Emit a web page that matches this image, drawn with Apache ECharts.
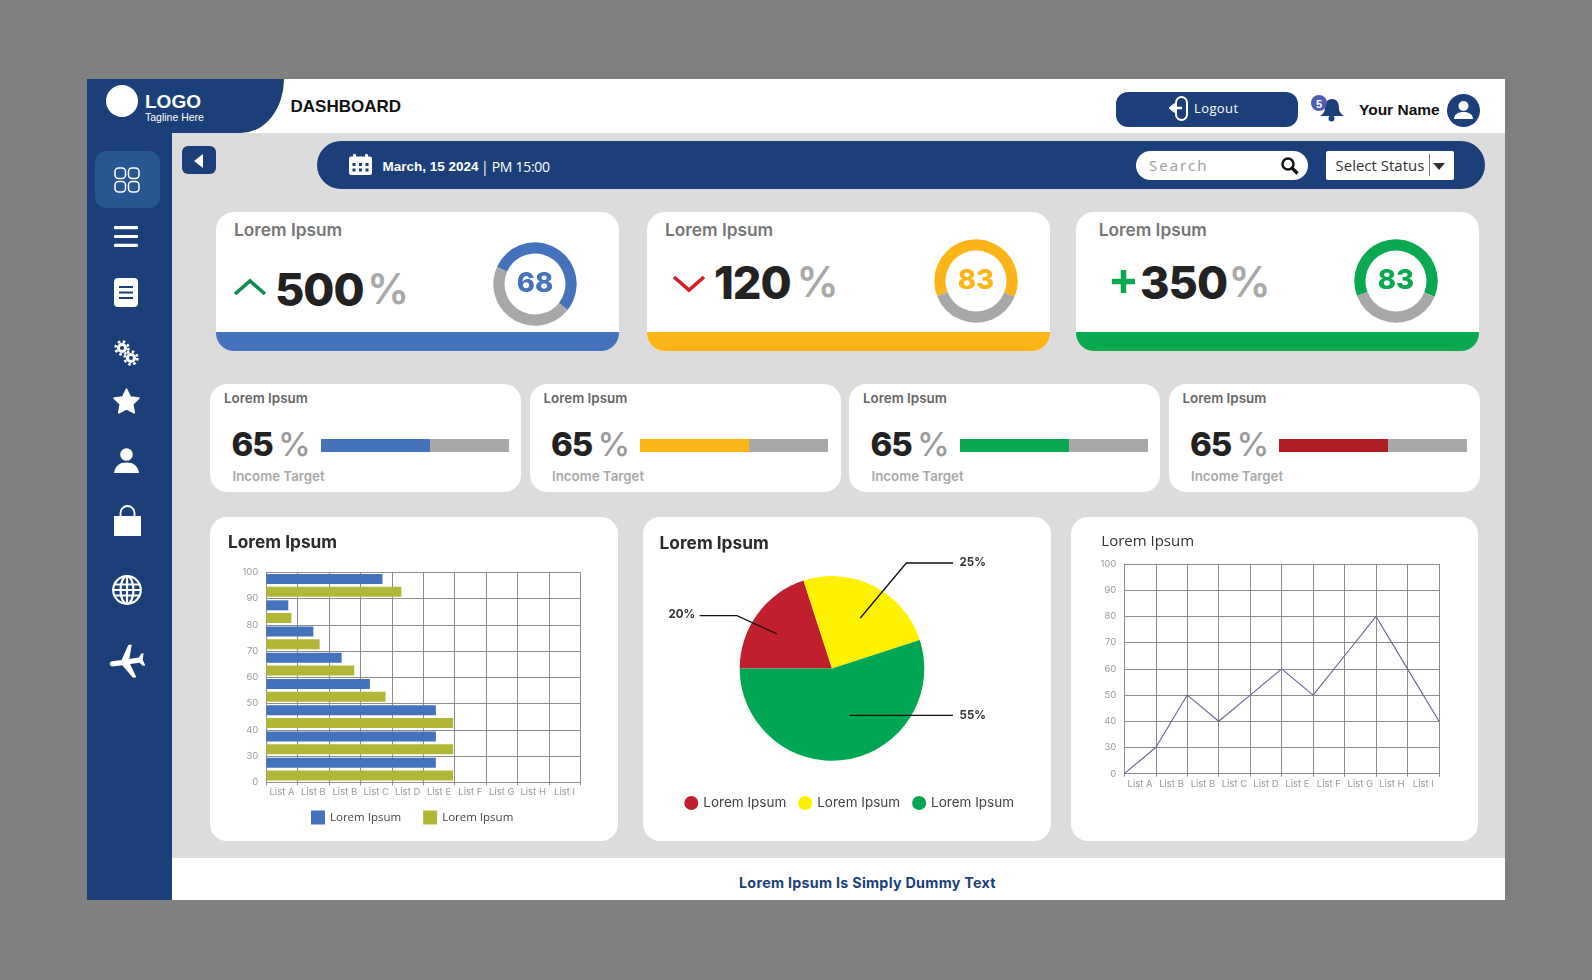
<!DOCTYPE html>
<html>
<head>
<meta charset="utf-8">
<title>Dashboard</title>
<script src="https://cdn.jsdelivr.net/npm/echarts@6/dist/echarts.min.js"></script>
<style>
html,body{margin:0;padding:0;width:1592px;height:980px;overflow:hidden;background:#7f8080;font-family:Inter,sans-serif;}
.box{position:absolute;}
.txt{position:absolute;white-space:nowrap;line-height:1;}
.card{position:absolute;background:#fff;overflow:hidden;}
svg{position:absolute;overflow:visible;}
</style>
</head>
<body>
<!-- shell -->
<div class="box" style="left:87px;top:79px;width:1418px;height:821px;background:#dcdcdc"></div>
<div class="box" style="left:87px;top:79px;width:1418px;height:54px;background:#fff"></div>
<div class="box" style="left:172px;top:858px;width:1333px;height:42px;background:#fff"></div>
<div class="box" style="left:87px;top:79px;width:85px;height:821px;background:#1b3f78"></div>
<div class="box" style="left:87px;top:79px;width:197px;height:54px;background:#1b3f78;border-bottom-right-radius:43px 54px"></div>
<div class="box" style="left:106px;top:85px;width:32px;height:32px;border-radius:50%;background:#fff"></div>
<div class="txt" style="left:145px;top:91px;font:bold 19px 'Liberation Sans';color:#fff">LOGO</div>
<div class="txt" style="left:145px;top:110.500px;font:10.500px 'Liberation Sans';color:#fff">Tagline Here</div>
<div class="txt" style="left:290.500px;top:97px;font:bold 17px 'Liberation Sans';color:#111">DASHBOARD</div>

<!-- sidebar -->
<div class="box" style="left:94.500px;top:151px;width:65px;height:57px;border-radius:11px;background:#275690"></div>
<svg style="left:114px;top:166.500px" width="26" height="26" fill="none" stroke="#fff" stroke-width="1.5">
  <rect x="1" y="1" width="10.5" height="10.5" rx="3.5"/><rect x="14.5" y="1" width="10.5" height="10.5" rx="3.5"/>
  <rect x="1" y="14.5" width="10.5" height="10.5" rx="3.5"/><rect x="14.5" y="14.5" width="10.5" height="10.5" rx="3.5"/>
</svg>
<svg style="left:114px;top:225.500px" width="24" height="21" fill="#fff">
  <rect width="24" height="3.2" rx="1"/><rect y="8.9" width="24" height="3.2" rx="1"/><rect y="17.8" width="24" height="3.2" rx="1"/>
</svg>
<svg style="left:114px;top:278px" width="24" height="29">
  <rect width="24" height="29" rx="4" fill="#fff"/>
  <path d="M5 9h14M5 14.5h14M5 20h14" stroke="#1b3f78" stroke-width="2.2"/>
</svg>
<svg style="left:114px;top:340px" width="25" height="26" fill="none" stroke="#fff">
  <circle cx="8" cy="8" r="3.6" stroke-width="3"/><circle cx="8" cy="8" r="6.4" stroke-width="2.6" stroke-dasharray="2.5 2.53"/>
  <circle cx="17" cy="18" r="3.6" stroke-width="3"/><circle cx="17" cy="18" r="6.4" stroke-width="2.6" stroke-dasharray="2.5 2.53"/>
</svg>
<svg style="left:112.500px;top:388px" width="27" height="26" viewBox="0 0 24 23">
  <path d="M12 1 15.400 8 23 9 17.500 14.400 18.800 22 12 18.400 5.200 22 6.500 14.400 1 9 8.600 8Z" fill="#fff" stroke="#fff" stroke-width="1.500" stroke-linejoin="round"/>
</svg>
<svg style="left:114px;top:448px" width="25" height="25" fill="#fff">
  <circle cx="12.500" cy="6.500" r="6.300"/><path d="M0 25C1 17.500 6 14.500 12.500 14.500S24 17.500 25 25Z"/>
</svg>
<svg style="left:113.500px;top:504px" width="27" height="32">
  <path d="M6.500 13V9a7 7 0 0 1 14 0v4" fill="none" stroke="#fff" stroke-width="1.800"/>
  <rect y="12" width="27" height="20" fill="#fff"/>
</svg>
<svg style="left:112px;top:575px" width="30" height="30" fill="none" stroke="#fff" stroke-width="2.200">
  <circle cx="15" cy="15" r="13.800"/><ellipse cx="15" cy="15" rx="6.500" ry="13.800"/>
  <path d="M15 1v28M2 9.500h26M2 20.500h26M1 15h28"/>
</svg>
<svg style="left:106px;top:640px" width="42" height="42" viewBox="0 0 24 24">
  <path transform="rotate(-98 12 12)" d="M21 16v-2l-8-5V3.500c0-.83-.67-1.500-1.500-1.500S10 2.670 10 3.500V9l-8 5v2l8-2.500V19l-2 1.500V22l3.500-1 3.500 1v-1.500L13 19v-5.500l8 2.500z" fill="#fff"/>
</svg>

<!-- header right -->
<div class="box" style="left:1116px;top:92px;width:182px;height:35px;border-radius:12px;background:#1b3f78"></div>
<svg style="left:1168px;top:96px" width="22" height="25" fill="none" stroke="#fff" stroke-width="2">
  <rect x="8" y="1" width="11" height="23" rx="5.500"/><path d="M14 12H3" stroke-width="2.500"/><path d="M6.500 7.500 1 12l5.500 4.500Z" fill="#fff" stroke-width="1"/>
</svg>
<div class="txt" style="left:1194px;top:99px;font:13px 'Open Sans';letter-spacing:.4px;color:#fff">Logout</div>
<svg style="left:1319px;top:97px" width="26" height="25" fill="#1b3f78">
  <path d="M13 2c5 0 7 4 7 9 0 4 2 6 5 8H1c3-2 5-4 5-8 0-5 2-9 7-9Z"/><circle cx="12.500" cy="21.500" r="3"/>
</svg>
<div class="box" style="left:1311px;top:95px;width:16px;height:16px;border-radius:50%;background:#4d5eb0"></div>
<div class="txt" style="left:1311px;top:97.500px;width:16px;text-align:center;font:bold 11px 'Liberation Sans';color:#fff">5</div>
<div class="txt" style="left:1359px;top:101px;font:bold 15.500px 'Liberation Sans';color:#111">Your Name</div>
<svg style="left:1446.500px;top:93.500px" width="33" height="33">
  <circle cx="16.500" cy="16.500" r="16.500" fill="#1b3f78"/>
  <circle cx="16.500" cy="12" r="5" fill="#fff"/><path d="M7 25c.5-5 4-7 9.500-7s9 2 9.500 7Z" fill="#fff"/>
</svg>

<!-- date bar -->
<div class="box" style="left:182px;top:146px;width:33.500px;height:28px;border-radius:6px;background:#1b3f78"></div>
<svg style="left:194px;top:154px" width="9" height="14"><path d="M9 0V14L0 7Z" fill="#fff"/></svg>
<div class="box" style="left:316.500px;top:141px;width:1168px;height:48px;border-radius:24px;background:#1b3f78"></div>
<svg style="left:349px;top:154px" width="23" height="21" fill="#fff">
  <rect y="2.500" width="23" height="18.500" rx="2"/><rect x="4" width="3" height="5" rx="1"/><rect x="16" width="3" height="5" rx="1"/>
  <path d="M3.500 9h3v3h-3zM10 9h3v3h-3zM16.500 9h3v3h-3zM3.500 14.500h3v3h-3zM10 14.500h3v3h-3zM16.500 14.500h3v3h-3z" fill="#1b3f78"/>
</svg>
<div class="txt" style="left:382.500px;top:159px;font:bold 13.500px 'Liberation Sans';color:#fff">March, 15 2024</div>
<div class="txt" style="left:481px;top:157px;font:14px 'Open Sans';letter-spacing:-.3px;color:#fff">| PM 15:00</div>
<div class="box" style="left:1136px;top:151px;width:172px;height:29px;border-radius:14.500px;background:#fff"></div>
<div class="txt" style="left:1149px;top:155px;font:15px 'Open Sans';letter-spacing:2px;color:#9b9b9b">Search</div>
<svg style="left:1281px;top:157px" width="18" height="18" fill="none" stroke="#111" stroke-width="2.500">
  <circle cx="7" cy="7" r="5.500"/><path d="M11 11l5.500 5.500" stroke-width="3.200"/>
</svg>
<div class="box" style="left:1326px;top:151px;width:127.500px;height:28.500px;border-radius:2px;background:#fff"></div>
<div class="txt" style="left:1335.500px;top:155px;font:15px 'Open Sans';color:#333">Select Status</div>
<div class="box" style="left:1429px;top:154px;width:1px;height:22px;background:#777"></div>
<svg style="left:1432.500px;top:163px" width="12" height="7"><path d="M0 0H12L6 7Z" fill="#333"/></svg>

<div class="txt" style="left:739px;top:874px;font:700 14.300px Inter;letter-spacing:.28px;color:#1b3f78">Lorem Ipsum Is Simply Dummy Text</div>

<div id="kpiCards"></div>
<div id="targetCards"></div>

<div class="card" style="left:210px;top:517.300px;width:408px;height:324px;border-radius:17px"><div class="picBar" style="width:408px;height:324px"></div></div>
<div class="card" style="left:642.700px;top:517.300px;width:408px;height:324px;border-radius:17px"><div class="picPie" style="width:408px;height:324px"></div></div>
<div class="card" style="left:1070.700px;top:517.300px;width:407.600px;height:324px;border-radius:17px"><div class="picLine" style="width:407.600px;height:324px"></div></div>

<script>
// top cards
var kpi_titles=['Lorem Ipsum','Lorem Ipsum','Lorem Ipsum'];
var kpi_values=[500,120,350];
var ring_labels=[68,83,83];
var ring_filled=[54,62,62];
// progress cards
var target_titles=['Lorem Ipsum','Lorem Ipsum','Lorem Ipsum','Lorem Ipsum'];
var target_values=[65,65,65,65];
var target_filled=[58,58,58,58];
var target_caption='Income Target';
// bar chart
var bar_y_ticks=['0','30','40','50','60','70','80','90','100'];
var bar_rows=['90','80','70','60','50','40','30','0'];
var bar_x_labels=['List A','List B','List B','List C','List D','List E','List F','List G','List H','List I'];
var bar_blue=[37,7,15,24,33,54,54,54];
var bar_olive=[43,8,17,28,38,59.5,59.5,59.5];
// pie chart
var pie_names=['Slice A','Slice B','Slice C'];
var pie_values=[20,25,55];
// line chart
var line_x_labels=['List A','List B','List B','List C','List D','List E','List F','List G','List H','List I'];
var line_values=[0,30,50,40,50,60,50,65,80,60,40];

var BLUE='#4473bb',YELLOW='#fbb518',GREEN='#0aa850',RED='#ae1f23',TRACK='#a8a8a8',GRID='#8c8c8c';
var TICK_TEXT={color:'#9a9a9a',fontSize:9.5,fontFamily:'Inter'};

function addText(parent,text,x,y,css){
    var el=document.createElement('div');
    el.className='txt';
    el.textContent=text;
    el.style.cssText='left:'+x+'px;top:'+y+'px;'+css;
    parent.appendChild(el);
}
function addBox(parent,x,y,w,h,extra){
    var el=document.createElement('div');
    el.className='box';
    el.style.cssText='left:'+x+'px;top:'+y+'px;width:'+w+'px;height:'+h+'px;'+(extra||'');
    parent.appendChild(el);
    return el;
}

// kpi cards: card box, text positions and ring centre for each
var kpi_layout=[
    {x:215.5,w:403.5,color:BLUE,title:234,num:275,pct:367,numTop:262,ringX:534.7,ringY:284,start:156,
     mark:'<svg style="left:234px;top:279px" width="32" height="17"><path d="M1 15 16 2 31 15" fill="none" stroke="#0e8f4f" stroke-width="3.6"/></svg>'},
    {x:647,w:403,color:YELLOW,title:665,num:714,pct:796.5,numTop:255,ringX:975.6,ringY:281.3,start:201,
     mark:'<svg style="left:673px;top:275px" width="32" height="17"><path d="M1 2 16 15 31 2" fill="none" stroke="#d62027" stroke-width="3.6"/></svg>'},
    {x:1075.7,w:403.3,color:GREEN,title:1098.7,num:1140,pct:1228.5,numTop:255,ringX:1396,ringY:281.3,start:201,
     mark:'<svg style="left:1111.5px;top:270px" width="23" height="23"><path d="M0 11.500H23M11.500 0V23" stroke="#0aa850" stroke-width="5.500"/></svg>'}
];
var kpi_holder=document.querySelector('#kpiCards');
kpi_layout.forEach(function(c,i){
    var card=addBox(kpi_holder,c.x,212,c.w,139,'background:#fff;border-radius:18px;overflow:hidden');
    addBox(card,0,120,c.w,19,'background:'+c.color);
    addText(kpi_holder,kpi_titles[i],c.title,219,"font:600 17.300px Inter;color:#767676");
    kpi_holder.insertAdjacentHTML('beforeend',c.mark);
    addText(kpi_holder,String(kpi_values[i]),c.num,c.numTop,"font:800 45px Inter;letter-spacing:-1px;color:#222");
    addText(kpi_holder,'%',c.pct,c.numTop+1,"font:600 42px Inter;color:#a8a8a8");
    var ring=addBox(kpi_holder,c.ringX-50,c.ringY-50,100,100);
    var myChart_ring=echarts.init(ring);
    myChart_ring.setOption({
        animation:false,
        series:[{
            type:'pie',
            silent:true,
            radius:[30.5,41.7],
            center:['50%','50%'],
            startAngle:c.start,
            label:{show:false},
            labelLine:{show:false},
            data:[
                {value:ring_filled[i],itemStyle:{color:c.color},
                 label:{show:true,position:'center',formatter:String(ring_labels[i]),fontFamily:'Inter',fontWeight:800,fontSize:27.5,color:c.color}},
                {value:100-ring_filled[i],itemStyle:{color:TRACK}}
            ]
        }]
    });
});

// progress cards
var target_layout=[
    {x:210,color:BLUE},
    {x:529.5,color:YELLOW},
    {x:849,color:GREEN},
    {x:1168.5,color:RED}
];
var target_holder=document.querySelector('#targetCards');
target_layout.forEach(function(c,i){
    addBox(target_holder,c.x,384,311,108,'background:#fff;border-radius:17px');
    addText(target_holder,target_titles[i],c.x+14,390,"font:600 13.400px Inter;color:#666");
    addText(target_holder,String(target_values[i]),c.x+21.5,424,"font:800 33px Inter;letter-spacing:-1px;color:#222");
    addText(target_holder,'%',c.x+68,424,"font:500 33px Inter;color:#999");
    addText(target_holder,target_caption,c.x+22.5,468,"font:600 13.300px Inter;color:#a9a9a9");
    var bar=addBox(target_holder,c.x+110.8,439,188.2,13.4);
    var myChart_target=echarts.init(bar);
    myChart_target.setOption({
        animation:false,
        grid:{left:0,right:0,top:0,bottom:0},
        xAxis:{type:'value',min:0,max:100,show:false},
        yAxis:{type:'category',data:[target_titles[i]],show:false},
        series:[
            {type:'bar',stack:'t',silent:true,barWidth:'100%',data:[target_filled[i]],itemStyle:{color:c.color}},
            {type:'bar',stack:'t',silent:true,barWidth:'100%',data:[100-target_filled[i]],itemStyle:{color:TRACK}}
        ]
    });
});

// bar chart
var myChart_bar=echarts.init(document.querySelector('.picBar'));
var option_bar={
    animation:false,
    title:{
        text:'Lorem Ipsum',left:13,top:12,
        textStyle:{fontFamily:'Inter',fontWeight:700,fontSize:17.3,color:'#2b2b2b'}
    },
    legend:{
        left:96,top:288.5,itemWidth:14,itemHeight:14,itemGap:22,selectedMode:false,icon:'rect',
        data:['bar_a','bar_b'],
        formatter:function(){return 'Lorem Ipsum';},
        textStyle:{fontFamily:'Open Sans',fontSize:11.5,color:'#444'}
    },
    grid:{left:56.3,top:55.3,width:314,height:210},
    xAxis:[
        {type:'value',min:0,max:100,interval:10,
         axisLine:{show:true,lineStyle:{color:GRID}},
         axisTick:{show:true,length:3,lineStyle:{color:GRID}},
         axisLabel:{show:false},
         splitLine:{show:true,lineStyle:{color:GRID}}},
        {type:'category',position:'bottom',data:bar_x_labels,
         axisLine:{show:false},axisTick:{show:false},
         axisLabel:Object.assign({interval:0,margin:5},TICK_TEXT)}
    ],
    yAxis:[
        {type:'category',boundaryGap:false,data:bar_y_ticks,
         axisLine:{show:true,lineStyle:{color:GRID}},
         axisTick:{show:false},
         axisLabel:Object.assign({interval:0,margin:8},TICK_TEXT),
         splitLine:{show:true,interval:0,lineStyle:{color:GRID}}},
        {type:'category',show:false,inverse:true,data:bar_rows}
    ],
    series:[
        {name:'bar_a',type:'bar',yAxisIndex:1,barWidth:10,barGap:'27%',silent:true,data:bar_blue,itemStyle:{color:BLUE}},
        {name:'bar_b',type:'bar',yAxisIndex:1,barWidth:10,barGap:'27%',silent:true,data:bar_olive,itemStyle:{color:'#b2b738'}}
    ]
};
myChart_bar.setOption(option_bar);

// pie chart, the leader lines run into the slices so they are drawn on top
var pie_callouts=[
    {x:25.6,y:97.7,line:[[134,117],[94,98.7],[56.6,98.7]]},
    {x:316.6,y:46,line:[[217.3,101],[263.3,46],[310,46]]},
    {x:316.6,y:198.4,line:[[206.6,198.4],[260,198.4],[310,198.4]]}
];
var myChart_pie=echarts.init(document.querySelector('.picPie'));
var option_pie={
    animation:false,
    title:{
        text:'Lorem Ipsum',left:11.6,top:13,
        textStyle:{fontFamily:'Inter',fontWeight:700,fontSize:17.3,color:'#2b2b2b'}
    },
    legend:{
        left:36.3,top:274,itemWidth:14,itemHeight:14,itemGap:12,icon:'circle',selectedMode:false,
        data:pie_names,
        formatter:function(){return 'Lorem Ipsum';},
        textStyle:{fontFamily:'Inter',fontSize:13.5,color:'#444'}
    },
    graphic:pie_callouts.map(function(c){
        return {type:'polyline',silent:true,z:100,shape:{points:c.line},style:{stroke:'#111',lineWidth:1.3,fill:null}};
    }),
    series:[{
        type:'pie',
        silent:true,
        center:[189,151.4],
        radius:[0,92.3],
        startAngle:180,
        color:['#c01f2e','#fff200','#00a651'],
        data:pie_names.map(function(n,i){return {name:n,value:pie_values[i]};}),
        label:{show:true,formatter:'{d}%',fontFamily:'Inter',fontWeight:700,fontSize:11.5,color:'#333'},
        labelLine:{show:false},
        labelLayout:function(params){
            var c=pie_callouts[params.dataIndex];
            return {x:c.x,y:c.y,align:'left',verticalAlign:'middle'};
        }
    }]
};
myChart_pie.setOption(option_pie);

// line chart
// the axis shows 0 straight under 30, so 0 sits one step below 30
function line_pos(v){return v===0?20:v;}
var myChart_line=echarts.init(document.querySelector('.picLine'));
var option_line={
    animation:false,
    title:{
        text:'Lorem Ipsum',left:25.3,top:12,
        textStyle:{fontFamily:'Open Sans',fontWeight:400,fontSize:15,color:'#333'}
    },
    grid:{left:53.3,top:47,width:314.7,height:209.7},
    xAxis:[
        {type:'value',min:0,max:10,interval:1,
         axisLine:{show:true,lineStyle:{color:GRID}},
         axisTick:{show:true,length:3,lineStyle:{color:GRID}},
         axisLabel:{show:false},
         splitLine:{show:true,lineStyle:{color:GRID}}},
        {type:'category',position:'bottom',data:line_x_labels,
         axisLine:{show:false},axisTick:{show:false},
         axisLabel:Object.assign({interval:0,margin:5},TICK_TEXT)}
    ],
    yAxis:{
        type:'value',min:20,max:100,interval:10,
        axisLine:{show:true,lineStyle:{color:GRID}},
        axisTick:{show:false},
        axisLabel:Object.assign({margin:8,formatter:function(v){return v===20?'0':String(v);}},TICK_TEXT),
        splitLine:{show:true,lineStyle:{color:GRID}}
    },
    series:[{
        type:'line',silent:true,showSymbol:false,
        data:line_values.map(function(v,i){return [i,line_pos(v)];}),
        lineStyle:{color:'#5f6690',width:1.1}
    }]
};
myChart_line.setOption(option_line);
</script>
</body>
</html>
